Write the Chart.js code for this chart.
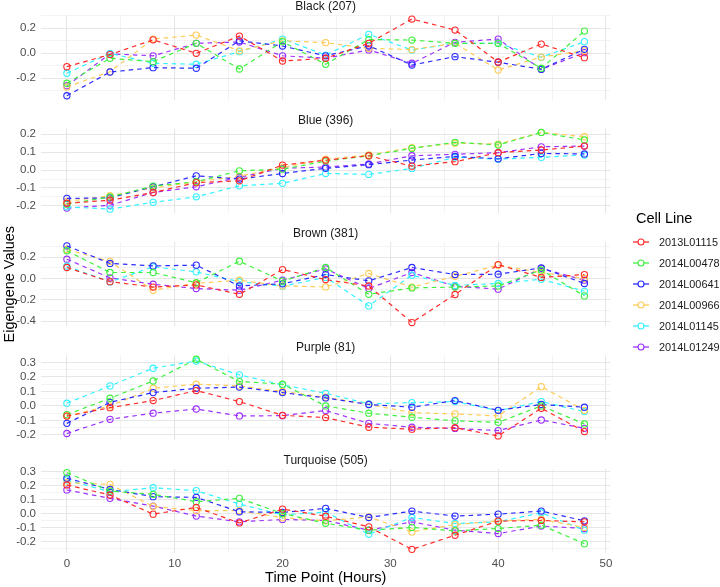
<!DOCTYPE html>
<html><head><meta charset="utf-8">
<script src="https://cdn.jsdelivr.net/npm/chart.js@4.4.1/dist/chart.umd.min.js"></script>
<style>
html,body{margin:0;padding:0;background:#fff;}
#wrap{position:relative;width:720px;height:587px;overflow:hidden;font-family:"Liberation Sans",Arial,Helvetica,sans-serif;}
#wrap canvas{position:absolute;left:0;top:0;}
.lt{position:absolute;left:636px;font-size:14.5px;color:#000;white-space:nowrap;transform:translateY(-50%);line-height:1;}
.li{position:absolute;left:633px;height:16px;transform:translateY(-50%);display:flex;align-items:center;font-size:10.9px;color:#1a1a1a;white-space:nowrap;}
.li svg{margin-right:10px;}
</style></head>
<body><div id="wrap"></div>
<script>
// ---------- data ----------
const timePoints = [0,4,8,12,16,20,24,28,32,36,40,44,48];
const cellLines = ['2013L01115','2014L00478','2014L00641','2014L00966','2014L01145','2014L01249'];
const lineColors = ['#ff2b2b','#3ff03f','#2b2bff','#ffcb57','#33f2ff','#9b30ff'];
const moduleNames = ['Black (207)','Blue (396)','Brown (381)','Purple (81)','Turquoise (505)'];

// rows follow cellLines order
const blackValues = [
  [-0.107,-0.01,0.108,0.0,0.138,-0.062,-0.04,0.08,0.274,0.186,-0.07,0.074,-0.035],
  [-0.24,-0.04,-0.067,0.08,-0.126,0.093,-0.088,0.11,0.106,0.08,0.08,-0.12,0.178],
  [-0.34,-0.15,-0.115,-0.12,0.1,0.058,-0.02,0.06,-0.094,-0.027,-0.072,-0.128,0.032],
  [-0.27,-0.147,0.114,0.146,0.02,0.1,0.085,0.04,0.03,0.08,-0.134,-0.03,0.02],
  [-0.16,0.0,-0.08,-0.088,0.013,0.114,-0.014,0.152,0.026,0.08,0.08,-0.032,0.093],
  [-0.26,-0.005,-0.02,0.08,0.09,-0.02,-0.04,0.027,-0.08,0.088,0.114,-0.128,0.005]
];
const blueValues = [
  [-0.185,-0.168,-0.125,-0.07,-0.06,0.028,0.055,0.08,0.022,0.047,0.097,0.112,0.134],
  [-0.19,-0.15,-0.089,-0.065,-0.004,0.005,0.05,0.08,0.121,0.155,0.14,0.21,0.168],
  [-0.158,-0.155,-0.093,-0.032,-0.05,-0.019,0.01,0.03,0.056,0.076,0.063,0.093,0.09],
  [-0.175,-0.143,-0.1,-0.065,-0.034,0.015,0.061,0.084,0.125,0.15,0.145,0.21,0.186],
  [-0.205,-0.218,-0.18,-0.149,-0.088,-0.074,-0.019,-0.024,0.009,0.072,0.061,0.071,0.084],
  [-0.212,-0.196,-0.125,-0.093,-0.04,0.01,0.017,0.034,0.08,0.088,0.097,0.13,0.134]
];
const brownValues = [
  [0.103,-0.03,-0.08,-0.06,-0.148,0.084,-0.01,-0.07,-0.413,-0.15,0.13,0.01,0.037],
  [0.26,0.056,0.056,-0.04,0.162,-0.025,0.103,-0.148,-0.088,-0.08,-0.07,0.08,-0.163],
  [0.306,0.141,0.118,0.125,-0.07,-0.05,0.037,-0.022,0.103,0.037,0.04,0.1,-0.047],
  [0.272,0.16,-0.11,-0.045,-0.016,-0.07,-0.079,0.047,-0.08,0.02,0.125,0.056,0.0],
  [0.115,-0.032,0.11,0.062,-0.03,-0.072,0.01,-0.257,0.031,-0.065,-0.047,-0.007,-0.12],
  [0.181,0.006,-0.054,-0.094,-0.11,-0.016,0.09,-0.094,0.056,-0.073,-0.1,0.095,-0.016]
];
const purpleValues = [
  [-0.07,-0.012,0.037,0.106,0.03,-0.065,-0.08,-0.147,-0.16,-0.15,-0.207,-0.016,-0.177],
  [-0.06,0.053,0.172,0.322,0.168,0.15,0.0,-0.05,-0.078,-0.103,-0.113,0.0,-0.124],
  [-0.12,0.025,0.092,0.122,0.13,0.092,0.055,0.01,-0.009,0.037,-0.03,0.01,-0.009],
  [-0.069,0.0,0.122,0.15,0.138,0.1,0.06,0.01,-0.046,-0.055,-0.069,0.133,-0.03],
  [0.019,0.138,0.26,0.31,0.214,0.145,0.087,0.014,0.023,0.03,-0.032,0.03,-0.039],
  [-0.19,-0.092,-0.05,-0.021,-0.069,-0.067,-0.032,-0.12,-0.147,-0.155,-0.17,-0.097,-0.154]
];
const turquoiseValues = [
  [0.204,0.132,-0.005,0.043,-0.068,0.031,-0.02,-0.096,-0.257,-0.156,-0.055,-0.05,-0.06],
  [0.292,0.16,0.137,0.084,0.108,0.0,-0.07,-0.12,-0.1,-0.125,-0.108,-0.084,-0.216],
  [0.252,0.172,0.12,0.115,0.012,0.007,0.036,-0.029,0.017,-0.019,-0.005,0.017,-0.053],
  [0.22,0.208,0.05,0.02,0.02,-0.03,-0.053,-0.025,-0.132,-0.08,-0.053,-0.043,-0.1],
  [0.24,0.155,0.184,0.163,0.067,-0.01,0.01,-0.149,-0.029,-0.072,-0.06,0.005,-0.12],
  [0.168,0.108,0.053,-0.019,-0.06,-0.043,-0.05,-0.12,-0.06,-0.12,-0.144,-0.09,-0.108]
];

// tick labels
const xMajorTicks = [0,10,20,30,40,50];
const xMinorTicks = [5,15,25,35,45];
const blackMajorTicks = [-0.2,0.0,0.2];
const blackMinorTicks = [-0.3,-0.1,0.1,0.3];
const blueMajorTicks = [-0.2,-0.1,0.0,0.1,0.2];
const blueMinorTicks = [-0.15,-0.05,0.05,0.15];
const brownMajorTicks = [-0.4,-0.2,0.0,0.2];
const brownMinorTicks = [-0.3,-0.1,0.1,0.3];
const purpleMajorTicks = [-0.2,-0.1,0.0,0.1,0.2,0.3];
const purpleMinorTicks = [-0.15,-0.05,0.05,0.15,0.25];
const turquoiseMajorTicks = [-0.2,-0.1,0.0,0.1,0.2,0.3];
const turquoiseMinorTicks = [-0.25,-0.15,-0.05,0.05,0.15,0.25];

// ---------- layout ----------
const W = 720, H = 587;
const plotLeft = 41, plotRight = 610.3;
const panelTop0 = 15.2, panelPitch = 113.4, panelHeight = 84.4;
const stripFont = 12, stripPadBottom = 1;
const stripBlock = stripFont * 1.2 + stripPadBottom;
const FONT = '"Liberation Sans", Arial, Helvetica, sans-serif';

const panels = [
  {values: blackValues, major: blackMajorTicks, minor: blackMinorTicks},
  {values: blueValues, major: blueMajorTicks, minor: blueMinorTicks},
  {values: brownValues, major: brownMajorTicks, minor: brownMinorTicks},
  {values: purpleValues, major: purpleMajorTicks, minor: purpleMinorTicks},
  {values: turquoiseValues, major: turquoiseMajorTicks, minor: turquoiseMinorTicks}
];

function expandRange(arr) {
  const lo = Math.min(...arr), hi = Math.max(...arr);
  const pad = (hi - lo) * 0.05;
  return [lo - pad, hi + pad];
}
const [xMin, xMax] = expandRange(timePoints);
const near = (a, b) => Math.abs(a - b) < 1e-9;
const GRID_MAJOR = '#e6e6e6', GRID_MINOR = '#f0f0f0';

const wrap = document.getElementById('wrap');
panels.forEach((p, i) => {
  const isLast = i === panels.length - 1;
  const isMid = i === 2;
  const top = panelTop0 + panelPitch * i;
  const bottom = top + panelHeight;
  const [yMin, yMax] = expandRange(p.values.flat());
  const yTicks = [...p.major, ...p.minor].sort((a, b) => a - b);
  const xTicks = [...xMajorTicks, ...xMinorTicks].sort((a, b) => a - b);
  const isMajorY = v => p.major.some(m => near(m, v));
  const isMajorX = v => xMajorTicks.some(m => near(m, v));

  const cv = document.createElement('canvas');
  cv.width = W; cv.height = H;
  cv.style.width = W + 'px'; cv.style.height = H + 'px';
  wrap.appendChild(cv);

  new Chart(cv, {
    type: 'line',
    data: {
      datasets: cellLines.map((name, j) => ({
        label: name,
        data: p.values[j].map((v, k) => ({x: timePoints[k], y: v})),
        borderColor: lineColors[j],
        backgroundColor: 'rgba(0,0,0,0)',
        pointBorderColor: lineColors[j],
        pointBackgroundColor: 'rgba(0,0,0,0)',
        pointRadius: 3.1,
        pointBorderWidth: 1.1,
        borderWidth: 1.2,
        borderDash: [4.5, 4],
        fill: false,
        tension: 0,
        clip: 8
      }))
    },
    options: {
      responsive: false,
      animation: false,
      devicePixelRatio: 1,
      layout: {
        padding: {
          left: 0,
          right: W - plotRight,
          top: top - stripBlock,
          bottom: isLast ? 0 : H - bottom
        }
      },
      plugins: {
        legend: {display: false},
        tooltip: {enabled: false},
        title: {
          display: true,
          text: moduleNames[i],
          fullSize: false,
          color: '#1a1a1a',
          font: {family: FONT, size: stripFont, weight: 'normal'},
          padding: {top: 0, bottom: stripPadBottom}
        }
      },
      scales: {
        x: {
          type: 'linear',
          min: xMin, max: xMax,
          afterBuildTicks: s => { s.ticks = xTicks.map(v => ({value: v})); },
          afterFit: s => { if (isLast) s.height = H - bottom; },
          border: {display: false},
          grid: {
            drawTicks: false,
            color: c => isMajorX(c.tick.value) ? GRID_MAJOR : GRID_MINOR,
            lineWidth: c => isMajorX(c.tick.value) ? 1.1 : 0.8
          },
          ticks: {
            display: isLast,
            autoSkip: false,
            maxRotation: 0,
            padding: 4,
            color: '#4d4d4d',
            font: {family: FONT, size: 11.5},
            callback: v => isMajorX(v) ? String(v) : ''
          },
          title: {
            display: isLast,
            text: 'Time Point (Hours)',
            color: '#000',
            font: {family: FONT, size: 14.5},
            padding: {top: 0, bottom: 0.5}
          }
        },
        y: {
          type: 'linear',
          min: yMin, max: yMax,
          afterBuildTicks: s => { s.ticks = yTicks.map(v => ({value: v})); },
          afterFit: s => { s.width = plotLeft; },
          border: {display: false},
          grid: {
            drawTicks: false,
            color: c => isMajorY(c.tick.value) ? GRID_MAJOR : GRID_MINOR,
            lineWidth: c => isMajorY(c.tick.value) ? 1.1 : 0.8
          },
          ticks: {
            autoSkip: false,
            padding: 5,
            color: '#4d4d4d',
            font: {family: FONT, size: 11.5},
            callback: v => isMajorY(v) ? v.toFixed(1) : ''
          },
          title: {
            display: isMid,
            text: 'Eigengene Values',
            color: '#000',
            font: {family: FONT, size: 14.5},
            padding: {top: 1.5, bottom: 0}
          }
        }
      }
    }
  });
});

// ---------- legend ----------
const legendTitleY = 218, legendFirstY = 242, legendStep = 21;
const lt = document.createElement('div');
lt.className = 'lt'; lt.style.top = legendTitleY + 'px'; lt.textContent = 'Cell Line';
wrap.appendChild(lt);
cellLines.forEach((name, j) => {
  const d = document.createElement('div');
  d.className = 'li';
  d.style.top = (legendFirstY + legendStep * j) + 'px';
  d.innerHTML = '<svg width="16" height="10"><line x1="0" y1="5" x2="16" y2="5" stroke="' + lineColors[j] +
    '" stroke-width="1.3"/><circle cx="8" cy="5" r="3" fill="#fff" stroke="' + lineColors[j] + '" stroke-width="1.1"/></svg>';
  const s = document.createElement('span'); s.textContent = name; d.appendChild(s);
  wrap.appendChild(d);
});
</script>
</body></html>
